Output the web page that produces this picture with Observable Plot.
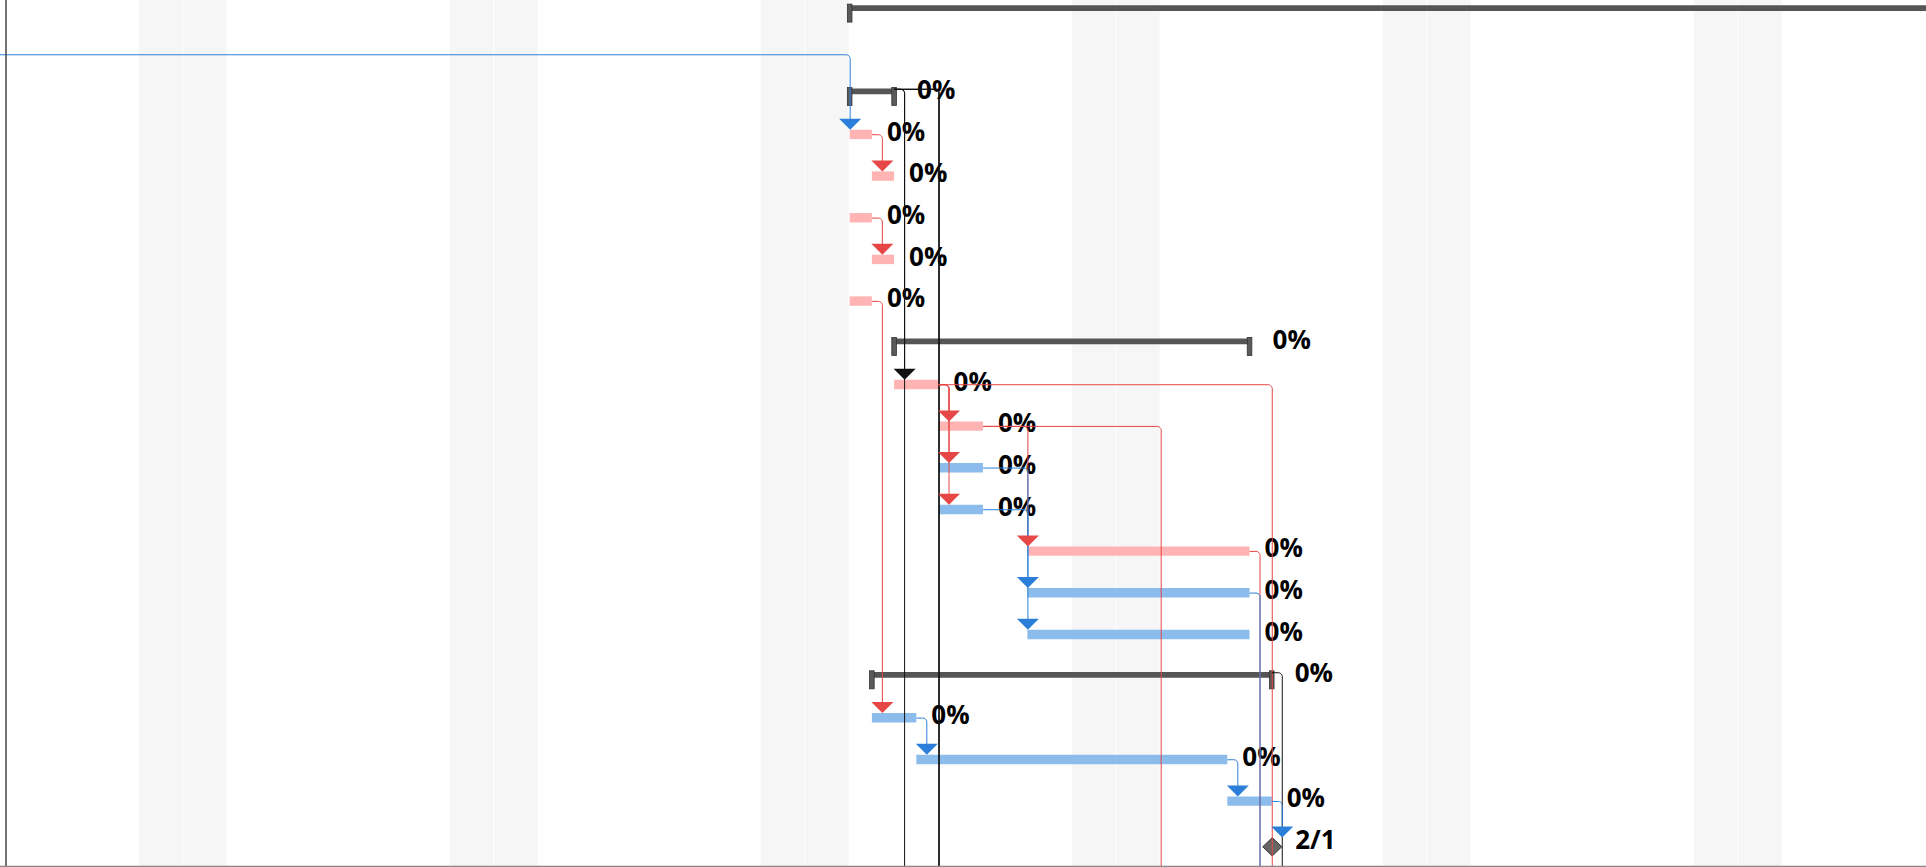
<!DOCTYPE html>
<html><head><meta charset="utf-8">
<script src="https://cdn.jsdelivr.net/npm/d3@7"></script>
<script src="https://cdn.jsdelivr.net/npm/@observablehq/plot@0.6"></script>
<style>
html,body{margin:0;padding:0;background:#fff;}
#chart svg{display:block;overflow:hidden;}
</style></head><body><div id="chart"></div>
<script>
// ---------------- data ----------------
const taskIds      = ["p0","m0","s1","t1","t2","t3","t4","t5","s2","t6","t7","t8","t9","t10","t11","t12","s3","t13","t14","t15","m1","h1","h2","h3","h4","h5","h6","h7","h8"];
const taskTypes    = ["project","milestone","project","task","task","task","task","task","project","task","task","task","task","task","task","task","project","task","task","task","milestone","task","task","task","task","task","task","task","task"];
const taskStarts   = ["2023-01-23T00:00","2022-12-30T00:00","2023-01-23T00:00","2023-01-23T00:00","2023-01-23T12:00","2023-01-23T00:00","2023-01-23T12:00","2023-01-23T00:00","2023-01-24T00:00","2023-01-24T00:00","2023-01-25T00:00","2023-01-25T00:00","2023-01-25T00:00","2023-01-27T00:00","2023-01-27T00:00","2023-01-27T00:00","2023-01-23T12:00","2023-01-23T12:00","2023-01-24T12:00","2023-01-31T12:00","2023-02-01T12:00","2023-01-25T00:00","2023-01-24T00:00","2023-02-01T12:00","2023-01-30T00:00","2023-02-01T00:00","2023-02-01T12:00","2023-01-25T00:00","2023-01-25T00:00"];
const taskEnds     = ["2023-02-24T00:00","2022-12-30T00:00","2023-01-24T00:00","2023-01-23T12:00","2023-01-24T00:00","2023-01-23T12:00","2023-01-24T00:00","2023-01-23T12:00","2023-02-01T00:00","2023-01-25T00:00","2023-01-26T00:00","2023-01-26T00:00","2023-01-26T00:00","2023-02-01T00:00","2023-02-01T00:00","2023-02-01T00:00","2023-02-01T12:00","2023-01-24T12:00","2023-01-31T12:00","2023-02-01T12:00","2023-02-01T12:00","2023-01-26T00:00","2023-01-25T00:00","2023-02-02T00:00","2023-01-31T00:00","2023-02-02T00:00","2023-02-02T00:00","2023-01-26T00:00","2023-01-26T00:00"];
const taskCritical = [false,false,false,true,true,true,true,true,false,true,true,false,false,true,false,false,false,false,false,false,false,false,false,false,false,false,false,false,false];
const taskProgress = [0,0,0,0,0,0,0,0,0,0,0,0,0,0,0,0,0,0,0,0,0,0,0,0,0,0,0,0,0];

const linkSources = ["m0","t1","t3","t5","s1","s1","s1","s1","s1","t6","t6","t6","t6","t7","t7","t8","t9","t10","t11","s3","t13","t14","t15"];
const linkTargets = ["t1","t2","t4","t13","t6","h1","h7","h8","h2","t7","t8","t9","h3","t10","h4","t11","t12","h5","h5","h6","t14","t15","m1"];

const viewStart = "2023-01-04T00:00";

// ---------------- layout ----------------
const W = 1926, H = 867;
const DAY = 864e5;
const PX0 = 5.5, PPD = 44.43;      // px of view start, px per day
const Y0 = 8.9, RH = 41.67;        // px of row 0 centre, row height
const X0 = +new Date(viewStart + "Z");
const XEND = X0 + (W - PX0) / PPD * DAY;

const toPx = t => PX0 + (+t - X0) / DAY * PPD;
const fromPx = p => new Date(X0 + (p - PX0) / PPD * DAY);
const rowPx = r => Y0 + r * RH;
const toRow = py => (py - Y0) / RH;

const PINK = "#ffb3b3", LBLUE = "#8bbcec", RED = "#e64646", BLUE = "#2b7fd8", DARK = "#555";

const tasks = taskIds.map((id, i) => ({
  id, row: i, type: taskTypes[i],
  start: new Date(taskStarts[i] + "Z"), end: new Date(taskEnds[i] + "Z"),
  critical: taskCritical[i], progress: taskProgress[i]
}));
const byId = new Map(tasks.map(t => [t.id, t]));
const plain = tasks.filter(t => t.type === "task");
const projects = tasks.filter(t => t.type === "project");
const milestones = tasks.filter(t => t.type === "milestone");

// weekend cells
const weekend = [];
for (let t = X0 - 7 * DAY; t < XEND + DAY; t += DAY) {
  const wd = new Date(t).getUTCDay();
  if (wd === 0 || wd === 6) weekend.push(new Date(t));
}

// caps of summary bars
const caps = [];
projects.forEach(p => [p.start, p.end].forEach(d => caps.push({x: d, row: p.row})));

// labels (only those that fall inside the visible viewport)
const fmt = d3.utcFormat("%-m/%-d");
const labels = tasks.map(t => {
  const off = t.type === "task" ? 14.5 : 22.5;
  const px = t.type === "milestone" ? toPx(t.start) + 23 : toPx(t.end) + off;
  return {px, x: fromPx(px), row: t.row, text: t.type === "milestone" ? fmt(t.start) : `${t.progress}%`};
}).filter(l => l.px > 0 && l.px + 45 < W && rowPx(l.row) - 14 > 0 && rowPx(l.row) + 14 < H);

// links
const linkPts = [], arrows = [];
linkSources.forEach((s, i) => {
  const a = byId.get(s), b = byId.get(linkTargets[i]);
  const color = a.type === "project" ? "#111" : a.critical ? RED : BLUE;
  const xs = a.type === "milestone" ? toPx(a.end) + 9.5 : toPx(a.end);
  const ys = rowPx(a.row) + (a.type === "project" ? -3.4 : a.type === "milestone" ? 3.7 : 0.3);
  const xt = toPx(b.start);
  const yt = rowPx(b.row) + (b.type === "milestone" ? -5.2 : b.type === "project" ? -4.2 : -4.7);
  const xv = Math.max(xs + 10, xt);
  const r = 4;
  const pts = [[xs, ys], [xv - r, ys]];
  for (let k = 1; k <= 6; k++) {
    const th = k / 6 * Math.PI / 2;
    pts.push([xv - r + r * Math.sin(th), ys + r - r * Math.cos(th)]);
  }
  pts.push([xv, yt - 6]);
  pts.forEach(([px, py]) => linkPts.push({id: i, x: fromPx(px), y: toRow(py), color}));
  arrows.push({x: fromPx(xv), y: toRow(yt), color});
});

const arrowSymbol = {draw(ctx) { ctx.moveTo(-11, -11); ctx.lineTo(11, -11); ctx.lineTo(0, 0); ctx.closePath(); }};
const diamondSymbol = {draw(ctx) { ctx.moveTo(0, -9.2); ctx.lineTo(9.5, 0); ctx.lineTo(0, 9.2); ctx.lineTo(-9.5, 0); ctx.closePath(); }};

const chart = Plot.plot({
  width: W, height: H,
  marginTop: 0, marginRight: 0, marginBottom: 0, marginLeft: 0,
  x: {type: "utc", domain: [new Date(X0), new Date(XEND)], range: [PX0, W], axis: null},
  y: {type: "linear", domain: [0, 20], range: [rowPx(0), rowPx(20)], axis: null},
  color: {type: "identity"},
  style: {background: "#fff", overflow: "hidden"},
  marks: [
    Plot.rect(weekend, {x1: d => d, x2: d => new Date(+d + DAY), y1: toRow(0), y2: toRow(H), fill: "#f6f6f6", insetRight: 1}),
    Plot.ruleY(plain, {x1: "start", x2: "end", y: "row", stroke: d => d.critical ? PINK : LBLUE, strokeWidth: 9.4, clip: true}),
    Plot.ruleY(projects, {x1: "start", x2: "end", y: d => d.row + toRow(Y0 - 1.3), stroke: DARK, strokeWidth: 5.8, clip: true}),
    Plot.rect(caps, {x1: d => fromPx(toPx(d.x) - 2.3), x2: d => fromPx(toPx(d.x) + 2.3), y1: d => d.row - 4.8 / RH, y2: d => d.row + 13.2 / RH, fill: "#5a5a5a", stroke: "#333", strokeWidth: 0.8, clip: true}),
    Plot.dot(milestones, {x: "start", y: d => d.row + 4 / RH, symbol: diamondSymbol, fill: "#666", stroke: "#333", strokeWidth: 1, clip: true}),
    Plot.text(labels, {x: "x", y: "row", text: "text", textAnchor: "start", dy: -2, fontSize: 26, fontWeight: 700, fontFamily: "Open Sans", fill: "#000"}),
    Plot.line(linkPts, {x: "x", y: "y", z: "id", stroke: "color", strokeWidth: 1, curve: "linear", clip: true}),
    Plot.dot(arrows, {x: "x", y: "y", symbol: arrowSymbol, fill: "color", stroke: "none", clip: true}),
    Plot.ruleX([new Date(X0)], {stroke: "#444", strokeWidth: 1.5}),
    Plot.ruleY([toRow(H - 1)], {stroke: "#888", strokeWidth: 1.5})
  ]
});
document.getElementById("chart").appendChild(chart);
</script>
</body></html>
